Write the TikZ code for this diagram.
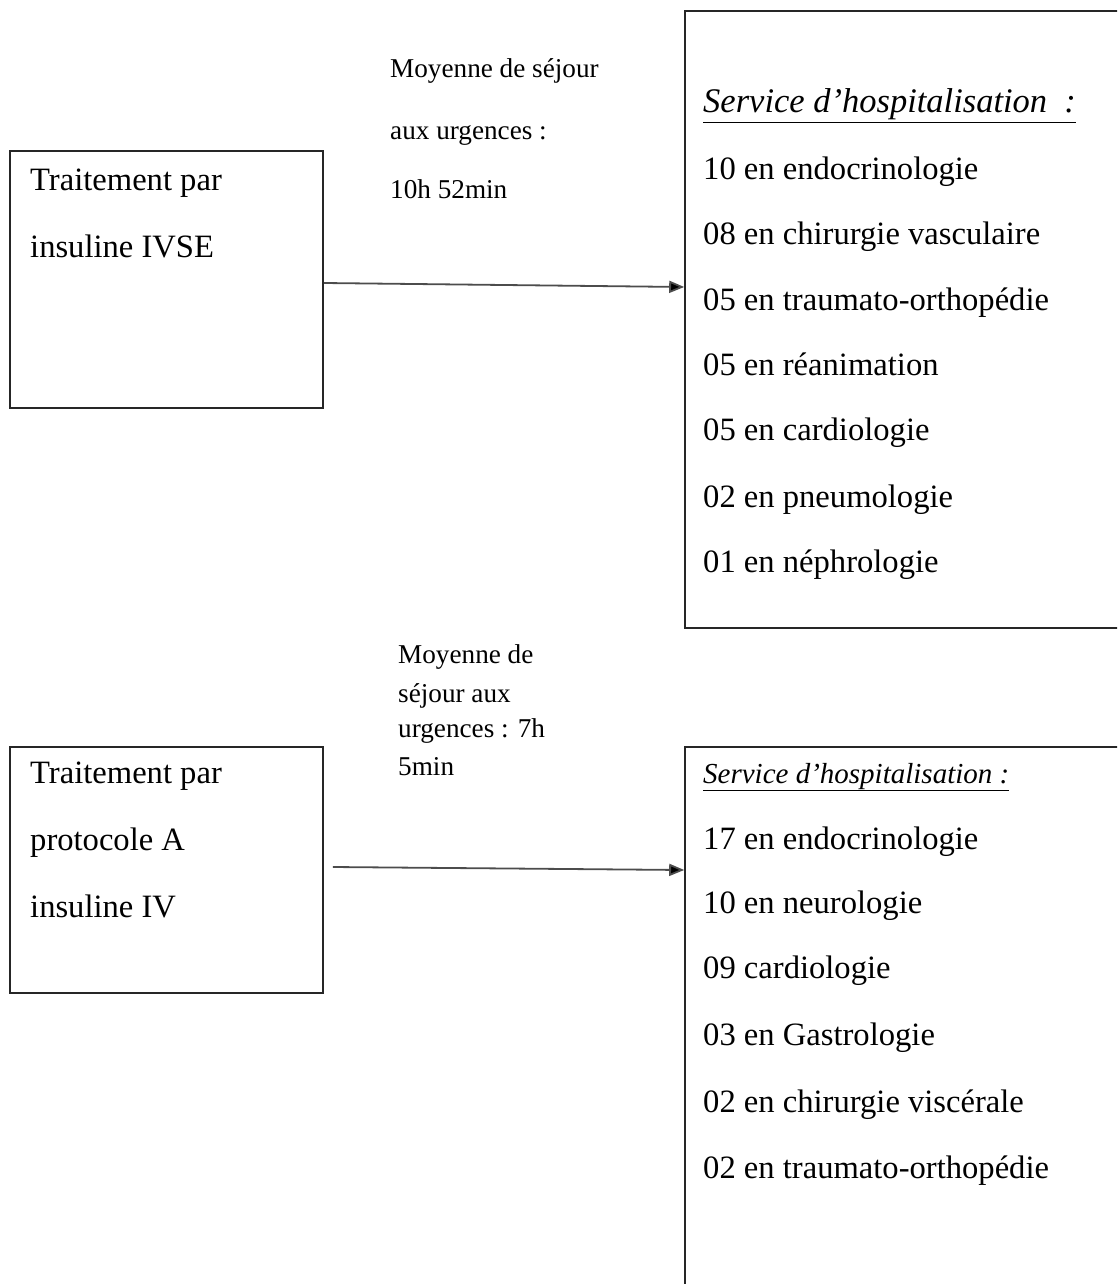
\documentclass[tikz,border=0pt]{standalone}
\usepackage{fontspec}
\setmainfont{Liberation Serif}
\usetikzlibrary{arrows.meta}
\begin{document}
\begin{tikzpicture}[x=1pt,y=-1pt,
  box/.style={draw=black!85,line width=1.6pt,inner sep=0pt,fill=none},
  body/.style={anchor=base west,inner sep=0pt,font=\fontsize{32.6}{38}\selectfont},
  note/.style={anchor=base west,inner sep=0pt,font=\fontsize{27.2}{32}\selectfont},
  head/.style={anchor=base west,inner sep=0pt,font=\itshape\fontsize{34.5}{40}\selectfont},
  headsmall/.style={anchor=base west,inner sep=0pt,font=\itshape\fontsize{29}{34}\selectfont},
  link/.style={draw=black!70,line width=1.8pt,-{Triangle[length=15pt,width=12pt,fill=black]}}]
\useasboundingbox (0,0) rectangle (1117,1284);
\clip (0,0) rectangle (1117,1284);

% treatment boxes (left) and ward boxes (right, running past the page edge)
\node[box,minimum width=313pt,minimum height=257pt] (t1) at (166.5,279.5) {};
\node[box,minimum width=313pt,minimum height=246pt] (t2) at (166.5,870) {};
\node[box,minimum width=460pt,minimum height=617pt] (s1) at (915,319.5) {};
\node[box,minimum width=460pt,minimum height=600pt] (s2) at (915,1047) {};

% first treatment
\node[body] (t1a) at (30,190) {Traitement par};
\node[body] (t1b) at (30,257) {insuline IVSE};

% second treatment
\node[body] (t2a) at (30,783) {Traitement par};
\node[body] (t2b) at (30,850) {protocole A};
\node[body] (t2c) at (30,917) {insuline IV};

% average stay in the emergency department
\node[note] (m1a) at (390,78) {Moyenne de séjour};
\node[note] (m1b) at (390,140) {aux urgences :};
\node[note] (m1c) at (390,199) {10h 52min};

\node[note] (m2a) at (398,663) {Moyenne de};
\node[note] (m2b) at (398,702) {séjour aux};
\node[note] (m2c) at (398,737) {urgences : 7h};
\node[note] (m2d) at (398,775) {5min};

% wards, first group
\node[head] (h1) at (703,113) {\underline{Service d’hospitalisation~~:}};
\foreach \y/\txt [count=\i] in {
  179/10 en endocrinologie,
  244/08 en chirurgie vasculaire,
  310/05 en traumato-orthopédie,
  375/05 en réanimation,
  440/05 en cardiologie,
  507/02 en pneumologie,
  572/01 en néphrologie}
  \node[body] (w1\i) at (703,\y) {\txt};

% wards, second group
\node[headsmall] (h2) at (703,783) {\underline{Service d’hospitalisation~:}};
\foreach \y/\txt [count=\i] in {
  849/17 en endocrinologie,
  913/10 en neurologie,
  978/09 cardiologie,
  1045/03 en Gastrologie,
  1112/02 en chirurgie viscérale,
  1178/02 en traumato-orthopédie}
  \node[body] (w2\i) at (703,\y) {\txt};

% connectors
\draw[link] ([yshift=-3.5pt]t1.east) -- ([yshift=32.5pt]s1.west);
\draw[link] ([xshift=9pt,yshift=3pt]t2.east) -- ([yshift=177pt]s2.west);
\end{tikzpicture}
\end{document}
